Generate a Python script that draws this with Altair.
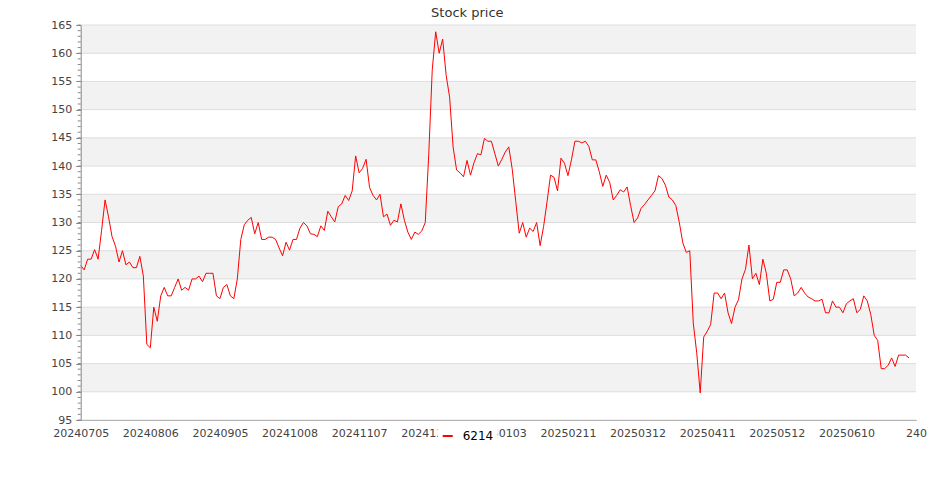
import altair as alt
import pandas as pd

# ---- data ----
prices = [
    122.4, 121.6, 123.5, 123.5, 125.2, 123.5, 128.6, 134.0, 131.0, 127.5,
    125.8, 123.0, 125.0, 122.5, 123.0, 122.0, 122.0, 124.0, 120.5, 108.4,
    107.8, 115.0, 112.5, 117.0, 118.5, 117.0, 117.0, 118.5, 120.0, 118.0,
    118.5, 118.0, 120.0, 120.0, 120.5, 119.5, 121.0, 121.0, 121.0, 117.0,
    116.5, 118.5, 119.0, 117.0, 116.5, 120.0, 127.0, 129.6, 130.4, 130.9,
    128.0, 130.0, 127.0, 127.0, 127.4, 127.4, 127.0, 125.5, 124.1, 126.5,
    125.1, 127.0, 127.0, 129.0, 130.0, 129.4, 128.0, 127.9, 127.5, 129.4,
    128.6, 132.0, 131.0, 130.1, 132.8, 133.3, 134.8, 133.9, 135.6, 141.8,
    138.8, 139.6, 141.2, 136.2, 134.8, 134.0, 135.0, 131.0, 131.5, 129.5,
    130.4, 130.1, 133.3, 130.4, 128.3, 127.0, 128.3, 127.9, 128.5, 130.0,
    142.0, 157.0, 163.8, 160.0, 162.5, 156.1, 152.2, 143.4, 139.3, 138.8,
    138.1, 141.0, 138.4, 140.6, 142.2, 142.0, 144.9, 144.4, 144.4, 142.2,
    140.0, 141.2, 142.5, 143.4, 139.4, 133.7, 128.1, 130.0, 127.4, 129.0,
    128.4, 130.0, 125.9, 129.3, 133.7, 138.4, 138.0, 135.6, 141.4, 140.5,
    138.3, 141.1, 144.4, 144.4, 144.1, 144.4, 143.5, 141.1, 141.1, 139.0,
    136.4, 138.4, 137.1, 134.0, 134.8, 135.8, 135.4, 136.3, 133.0, 130.0,
    130.8, 132.5, 133.2, 134.0, 134.8, 135.6, 138.3, 137.8, 136.6, 134.5,
    134.0, 133.0, 130.0, 126.4, 124.7, 125.0, 112.2, 106.9, 99.8, 109.7,
    110.7, 111.9, 117.5, 117.5, 116.5, 117.5, 114.0, 112.1, 115.0, 116.3,
    120.0, 121.7, 126.0, 120.0, 121.0, 119.0, 123.5, 121.0, 116.1, 116.4,
    119.4, 119.4, 121.6, 121.6, 120.0, 117.0, 117.5, 118.5, 117.5, 116.8,
    116.5, 116.1, 116.1, 116.4, 114.0, 114.0, 116.1, 115.0, 115.0, 114.0,
    115.6, 116.1, 116.5, 114.0, 114.6, 117.0, 116.1, 113.7, 110.0, 109.1,
    104.1, 104.1, 104.7, 106.0, 104.5, 106.5, 106.5, 106.5, 106.0,
]
series_name = "6214"
tick_labels = ["20240705", "20240806", "20240905", "20241008", "20241107",
               "20241205", "20250103", "20250211", "20250312", "20250411",
               "20250512", "20250610", "240"]
label_step = 20
tick_index = [i * label_step for i in range(len(tick_labels))]
y_ticks = list(range(95, 166, 5))
y_minor = list(range(95, 166))
band_lo = [100, 110, 120, 130, 140, 150, 160]
band_hi = [105, 115, 125, 135, 145, 155, 165]

# ---- tables ----
df = pd.DataFrame({"idx": list(range(len(prices))), "price": prices,
                   "series": [series_name] * len(prices)})
bands = pd.DataFrame({"lo": band_lo, "hi": band_hi})
grid = pd.DataFrame({"v": y_ticks})
minor = pd.DataFrame({"v": y_minor})

W, H = 835.3, 395
FONT = "DejaVu Sans"
x_dom = [0, tick_index[-1]]
y_dom = [95, 165]
yscale = alt.Scale(domain=y_dom, nice=False, zero=False)

label_arr = "[" + ",".join("'%s'" % s for s in tick_labels) + "]"

yaxis = alt.Axis(values=y_ticks, grid=False, title=None, tickSize=5,
                 tickColor="#888888", domainColor="#888888",
                 labelColor="#444444", labelFontSize=11, labelFont=FONT,
                 labelPadding=4, zindex=1)

band_layer = alt.Chart(bands).mark_rect(color="#f2f2f2").encode(
    y=alt.Y("lo:Q", scale=yscale, axis=yaxis),
    y2="hi:Q",
    x=alt.value(0), x2=alt.value(W),
)
grid_layer = alt.Chart(grid).mark_rule(color="#dddddd", strokeWidth=1).encode(
    y=alt.Y("v:Q", scale=yscale, axis=yaxis),
    x=alt.value(0), x2=alt.value(W),
)
minor_layer = alt.Chart(minor).mark_rule(color="#888888", strokeWidth=1).encode(
    y=alt.Y("v:Q", scale=yscale, axis=yaxis),
    x=alt.value(-3), x2=alt.value(0),
)
line_layer = alt.Chart(df).mark_line(strokeWidth=1, clip=False).encode(
    x=alt.X("idx:Q", scale=alt.Scale(domain=x_dom, nice=False, zero=False),
            axis=alt.Axis(values=tick_index, labelExpr=label_arr + "[round(datum.value/%d)]" % label_step,
                          ticks=False, grid=False, title=None, domainColor="#888888",
                          labelColor="#444444", labelFontSize=11, labelFont=FONT,
                          labelPadding=7, labelOverlap=False, labelFlush=False,
                          labelBound=False)),
    y=alt.Y("price:Q", scale=yscale, axis=yaxis),
    color=alt.Color("series:N", scale=alt.Scale(range=["#ff0000"]),
                    legend=alt.Legend(title=None, orient="none", legendX=357, legendY=401,
                                      direction="horizontal", fillColor="white",
                                      padding=4, symbolType="stroke", symbolStrokeWidth=2,
                                      symbolSize=100, labelFontSize=12, labelColor="#000000",
                                      labelFont=FONT, labelOffset=9, zindex=2)),
)

chart = alt.layer(band_layer, grid_layer, minor_layer, line_layer).properties(
    width=W, height=H,
    title=alt.TitleParams("Stock price", fontSize=13, fontWeight="normal", color="#333333",
                          font=FONT, anchor="middle", dx=-31, dy=7, offset=6),
    autosize=alt.AutoSizeParams(type="none"),
    padding={"left": 72.7, "top": 17, "right": 11, "bottom": 60},
).configure_view(stroke=None)

chart.save("out.html", embed_options={"renderer": "svg", "actions": False})
